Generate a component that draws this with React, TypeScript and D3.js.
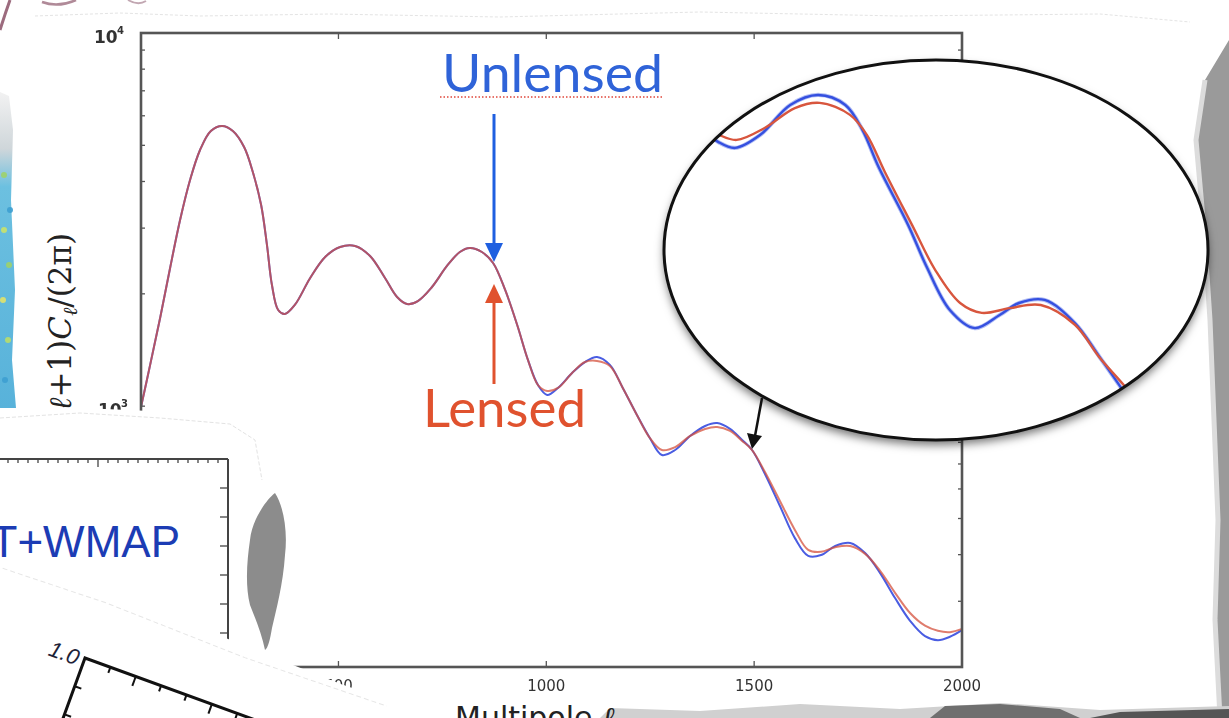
import React from 'react';
import * as d3 from 'd3';

// ---- Data ----
const ells = [25, 47, 71, 95, 119, 143, 167, 193, 220, 246, 273, 294, 314, 328, 340, 355, 371, 395, 432, 468, 504, 540, 576, 612, 641, 665, 691, 725, 761, 792, 816, 845, 872, 901, 930, 956, 980, 1002, 1028, 1062, 1093, 1122, 1153, 1184, 1218, 1249, 1278, 1310, 1346, 1382, 1411, 1442, 1471, 1495, 1526, 1562, 1598, 1630, 1661, 1695, 1731, 1767, 1803, 1839, 1875, 1911, 1942, 1971, 2000];
const lensed = [995, 1290, 1723, 2346, 3154, 4037, 4859, 5463, 5634, 5463, 4949, 4241, 3460, 2704, 2112, 1810, 1766, 1867, 2205, 2510, 2670, 2687, 2526, 2205, 1961, 1878, 1913, 2086, 2375, 2589, 2654, 2589, 2419, 2048, 1650, 1329, 1139, 1098, 1119, 1227, 1313, 1322, 1282, 1119, 947, 822, 763, 777, 832, 869, 879, 858, 807, 763, 666, 557, 466, 412, 407, 419, 422, 402, 362, 316, 279, 258, 250, 248, 253];
const unlensed = [995, 1290, 1723, 2346, 3154, 4037, 4859, 5463, 5634, 5463, 4949, 4241, 3460, 2704, 2112, 1810, 1766, 1867, 2205, 2510, 2670, 2687, 2526, 2205, 1961, 1878, 1913, 2086, 2375, 2589, 2654, 2589, 2419, 2048, 1650, 1329, 1139, 1072, 1119, 1227, 1313, 1355, 1290, 1119, 947, 822, 740, 763, 832, 885, 901, 869, 812, 763, 658, 540, 443, 397, 399, 422, 430, 404, 357, 306, 266, 242, 236, 241, 251];

// zoomed inset (magnifier)
const insetEllUnlensed = [1248, 1271, 1293, 1325, 1364, 1400, 1435, 1457, 1478, 1516, 1540, 1570, 1602, 1634, 1659, 1692, 1731, 1763, 1797, 1828];
const insetUnlensed = [1000, 948, 926, 973, 1093, 1136, 1093, 993, 860, 688, 585, 495, 462, 486, 509, 515, 471, 413, 357, 312];
const insetEllLensed = [1248, 1273, 1295, 1331, 1370, 1402, 1441, 1463, 1486, 1521, 1551, 1583, 1611, 1647, 1687, 1731, 1763, 1802, 1828];
const insetLensed = [1016, 973, 955, 1000, 1080, 1102, 1052, 973, 844, 688, 578, 509, 490, 499, 505, 468, 412, 360, 318];

const xTicks = [500, 1000, 1500, 2000];
const xTickLabels = ['500', '1000', '1500', '2000'];

const BLUE = '#4a5de2';
const RED = '#d4503c';

export default function App() {
  const W = 1229, H = 718;
  const x = d3.scaleLinear().domain([25, 2000]).range([141, 962]);
  const y = d3.scaleLog().domain([200, 10000]).range([667, 33]);
  const yTicks = y.ticks();

  const lineMain = (vals: number[]) =>
    d3.line<number>().x((_, i) => x(ells[i])).y(d => y(d)).curve(d3.curveCatmullRom.alpha(0.5))(vals) || '';

  const ix = d3.scaleLinear().domain([1200, 1900]).range([663, 1206]);
  const iy = d3.scaleLog().domain([300, 1300]).range([440, 60]);
  const lineInset = (ls: number[], vals: number[]) =>
    d3.line<number>().x((_, i) => ix(ls[i])).y(d => iy(d)).curve(d3.curveCatmullRom.alpha(0.5))(vals) || '';

  const ell = { cx: 936, cy: 250, rx: 272, ry: 190 };

  const sans = 'DejaVu Sans, sans-serif';
  const gill = 'Lato, "Open Sans", sans-serif';

  return (
    <svg width={W} height={H} style={{ position: 'absolute', left: 0, top: 0, background: '#fff' }}>
      <defs>
        <filter id="shadow" x="-10%" y="-10%" width="120%" height="130%">
          <feDropShadow dx="0" dy="5" stdDeviation="5" floodColor="#000" floodOpacity="0.55" />
        </filter>
        <filter id="blur1"><feGaussianBlur stdDeviation="0.6" /></filter>
        <clipPath id="ellClip">
          <ellipse cx={ell.cx} cy={ell.cy} rx={ell.rx - 1} ry={ell.ry - 1} />
        </clipPath>
        <linearGradient id="mapGrad" x1="0" y1="0" x2="0" y2="1">
          <stop offset="0" stopColor="#f2f2f2" />
          <stop offset="0.18" stopColor="#cfd6da" />
          <stop offset="0.3" stopColor="#6cc0e0" />
          <stop offset="1" stopColor="#58b2da" />
        </linearGradient>
      </defs>

      <rect x={0} y={0} width={W} height={H} fill="#fff" />

      {/* background collage pieces */}
      <path d="M0,92 L9,96 L13,130 L11,200 L15,290 L12,360 L16,408 L0,408 Z" fill="url(#mapGrad)" />
      {[[4, 230, '#c9e26a'], [9, 265, '#9fd26a'], [3, 300, '#e2e36a'], [8, 340, '#b9dd6a'], [5, 380, '#3d9fd0'], [10, 210, '#3d9fd0'], [4, 175, '#9fd26a']].map((c, i) => (
        <circle key={i} cx={c[0] as number} cy={c[1] as number} r={3} fill={c[2] as string} opacity={0.9} />
      ))}
      <path d="M0,30 Q5,14 10,0" fill="none" stroke="#9c6b7e" strokeWidth={3} />
      <path d="M42,2 Q58,8 76,0" fill="none" stroke="#b08a98" strokeWidth={2.5} />
      <path d="M128,0 Q138,6 146,1" fill="none" stroke="#c2a7b2" strokeWidth={2} />
      <path d="M35,16 L120,13 L200,16 L330,14 L500,17 L700,12 L900,16 L1100,14 L1190,22" fill="none" stroke="#e4e4e4" strokeWidth={1} strokeDasharray="3,2" />
      <path d="M1229,40 L1205,80 L1196,140 L1204,230 L1210,320 L1214,420 L1218,520 L1215,620 L1220,718 L1229,718 Z" fill="#9a9a9a" />
      <path d="M1205,80 L1196,140 L1204,230 L1210,320 L1214,420 L1218,520 L1215,620 L1220,718" fill="none" stroke="#dcdcdc" strokeWidth={5} />
      <path d="M600,718 L610,708 L700,711 L800,704 L900,709 L1000,703 L1100,710 L1229,706 L1229,718 Z" fill="#d0d0d0" />
      <path d="M930,718 L945,706 L1000,704 L1060,709 L1080,718 Z" fill="#6f6f6f" />
      <path d="M1090,718 L1120,712 L1229,709 L1229,718 Z" fill="#555" />

      {/* main chart */}
      <path d={lineMain(unlensed)} fill="none" stroke={BLUE} strokeWidth={2} />
      <path d={lineMain(lensed)} fill="none" stroke={RED} strokeWidth={2} strokeOpacity={0.75} />

      <g stroke="#555" strokeWidth={1.3}>
        {yTicks.map((t, i) => (
          <g key={i}>
            <line x1={141} x2={145} y1={y(t)} y2={y(t)} />
            <line x1={962} x2={958} y1={y(t)} y2={y(t)} />
          </g>
        ))}
        {xTicks.map((t, i) => (
          <g key={i}>
            <line x1={x(t)} x2={x(t)} y1={667} y2={661} />
            <line x1={x(t)} x2={x(t)} y1={33} y2={39} />
          </g>
        ))}
      </g>
      <rect x={141} y={33} width={821} height={634} fill="none" stroke="#555" strokeWidth={2.6} />

      <g fontFamily={sans} fontSize={15} fill="#333" textAnchor="middle" filter="url(#blur1)">
        {xTicks.map((t, i) => (
          <text key={i} x={x(t)} y={691}>{xTickLabels[i]}</text>
        ))}
      </g>
      <g fontFamily={sans} fill="#333" fontWeight="bold" filter="url(#blur1)">
        <text x={94} y={y(10000) + 10} fontSize={17}>10</text>
        <text x={117} y={y(10000) + 1} fontSize={10}>4</text>
        <text x={98} y={y(1000) + 10} fontSize={17}>10</text>
        <text x={121} y={y(1000) + 1} fontSize={10}>3</text>
      </g>
      <text transform="translate(71,233) rotate(-90)" textAnchor="end" fontFamily="DejaVu Serif, serif" fontSize={31} fill="#222">
        <tspan fontStyle="italic">ℓ</tspan>(<tspan fontStyle="italic">ℓ</tspan>+1)<tspan fontStyle="italic">C</tspan>
        <tspan fontStyle="italic" fontSize={20} dy={6}>ℓ</tspan>
        <tspan dy={-6}>/(2π)</tspan>
      </text>
      <text x={455} y={728} fontFamily={sans} fontSize={30} fill="#222">
        Multipole <tspan fontFamily="DejaVu Serif, serif" fontStyle="italic">ℓ</tspan>
      </text>

      {/* annotations */}
      <text x={442} y={92} fontFamily={gill} fontSize={52} fill="#2f63d8" textLength={221} lengthAdjust="spacingAndGlyphs">Unlensed</text>
      <line x1={440} x2={663} y1={97} y2={97} stroke="#e0453a" strokeWidth={1.6} strokeDasharray="1.5,2" />
      <line x1={494} x2={494} y1={114} y2={246} stroke="#1f5fe0" strokeWidth={3} />
      <path d="M485,243 L503,243 L494,262 Z" fill="#1f5fe0" />
      <line x1={494} x2={494} y1={384} y2={300} stroke="#e0522e" strokeWidth={3} />
      <path d="M485,303 L503,303 L494,284 Z" fill="#e0522e" />
      <text x={423} y={427} fontFamily={gill} fontSize={52} fill="#e0522e" textLength={163} lengthAdjust="spacingAndGlyphs">Lensed</text>

      {/* magnifier inset */}
      <ellipse cx={ell.cx} cy={ell.cy} rx={ell.rx} ry={ell.ry} fill="#fff" filter="url(#shadow)" />
      <g clipPath="url(#ellClip)">
        <path d={lineInset(insetEllUnlensed, insetUnlensed)} fill="none" stroke="#b4bff4" strokeWidth={4.2} />
        <path d={lineInset(insetEllUnlensed, insetUnlensed)} fill="none" stroke="#3550e0" strokeWidth={2.4} />
        <path d={lineInset(insetEllLensed, insetLensed)} fill="none" stroke="#d8563e" strokeWidth={2.4} />
      </g>
      <ellipse cx={ell.cx} cy={ell.cy} rx={ell.rx} ry={ell.ry} fill="none" stroke="#111" strokeWidth={3} />
      <line x1={762} y1={398} x2={755} y2={436} stroke="#111" strokeWidth={2.5} />
      <path d="M747,433 L762,436 L752,449 Z" fill="#111" />

      {/* overlapping panel: T+WMAP */}
      <path d="M0,410 L60,407 L150,411 L240,416 L258,430 L266,470 L262,520 L272,580 L282,645 L0,645 Z" fill="#fff" />
      <path d="M0,418 L80,413 L160,418 L230,424 L255,440 L262,480" fill="none" stroke="#e3e3e3" strokeWidth={1} strokeDasharray="4,2" />
      <g stroke="#444" strokeWidth={2}>
        <line x1={0} x2={228} y1={459} y2={459} />
        <line x1={228} x2={228} y1={459} y2={645} />
        {d3.range(8, 225, 10).map((t, i) => (
          <line key={i} x1={t} x2={t} y1={459} y2={t === 98 ? 467 : 463} strokeWidth={1.3} />
        ))}
        {d3.range(488, 640, 29).map((t, i) => (
          <line key={i} x1={228} x2={220} y1={t} y2={t} strokeWidth={1.3} />
        ))}
      </g>
      <text x={180} y={557} textAnchor="end" fontFamily="Liberation Sans, Arial, sans-serif" fontSize={44} fill="#1c3cb4">SPT+WMAP</text>
      <path d="M275,493 C283,505 288,530 285,555 C283,585 276,610 272,628 C270,640 268,648 265,650 C262,635 256,620 250,605 C245,585 247,560 250,540 C252,520 266,500 275,493 Z" fill="#8c8c8c" />

      {/* rotated bottom panel */}
      <g transform="translate(85,658) rotate(20)">
        <path d="M-400,-66 L-200,-63 L-100,-67 L0,-64 L120,-67 L250,-63 L400,-66 L700,-64 L700,400 L-400,400 Z" fill="#fff" />
        <path d="M-300,-58 L-150,-55 L0,-59 L150,-55 L300,-58" fill="none" stroke="#e6e6e6" strokeWidth={1} strokeDasharray="5,3" />
        <g stroke="#111" strokeWidth={3} fill="none">
          <path d="M0,200 L0,0 L700,0" />
        </g>
        <g stroke="#111" strokeWidth={2}>
          {d3.range(27, 700, 27).map((t, i) => (
            <line key={i} x1={t} x2={t} y1={0} y2={i % 3 === 1 ? 10 : 6} />
          ))}
          {d3.range(30, 200, 30).map((t, i) => (
            <line key={i} x1={0} x2={7} y1={t} y2={t} />
          ))}
        </g>
        <text x={-6} y={10} textAnchor="end" fontFamily="Liberation Sans, Arial, sans-serif" fontStyle="italic" fontSize={22} fill="#1d2238">1.0</text>
      </g>
    </svg>
  );
}
